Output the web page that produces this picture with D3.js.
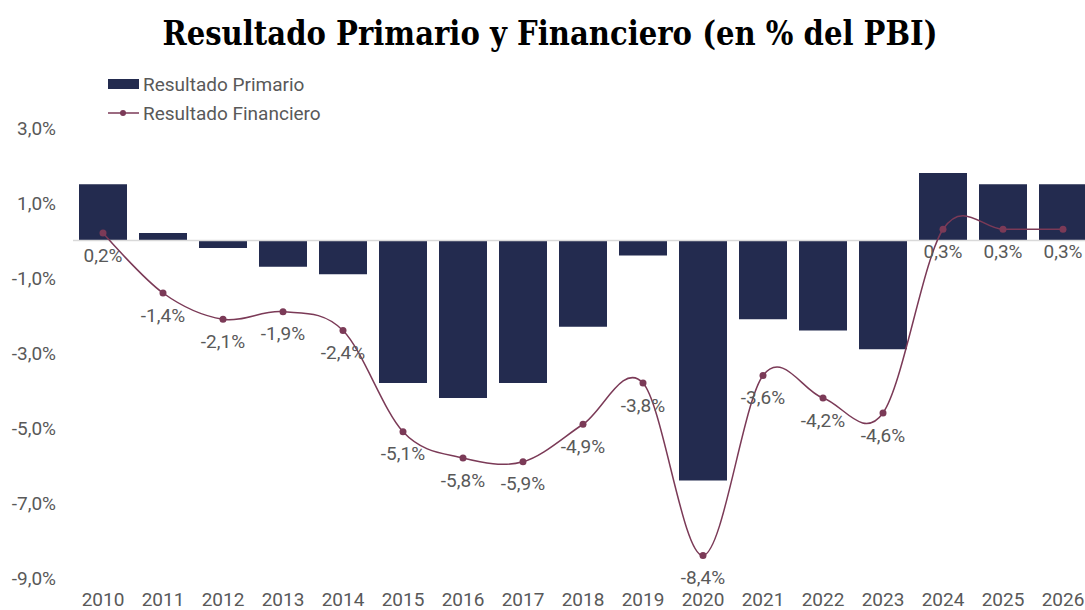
<!DOCTYPE html>
<html>
<head>
<meta charset="utf-8">
<script src="https://cdn.jsdelivr.net/npm/d3@7"></script>
<style>
  body { margin: 0; background: #fff; }
  text { font-family: Roboto, "Noto Sans", sans-serif; }
</style>
</head>
<body>
<div id="chart"></div>
<script>
var years = ["2010","2011","2012","2013","2014","2015","2016","2017","2018","2019","2020","2021","2022","2023","2024","2025","2026"];
// resultado primario (barras)
var primario = [1.5, 0.2, -0.2, -0.7, -0.9, -3.8, -4.2, -3.8, -2.3, -0.4, -6.4, -2.1, -2.4, -2.9, 1.8, 1.5, 1.5];
// resultado financiero (linea)
var financiero = [0.2, -1.4, -2.1, -1.9, -2.4, -5.1, -5.8, -5.9, -4.9, -3.8, -8.4, -3.6, -4.2, -4.6, 0.3, 0.3, 0.3];
var yTicks = [3, 1, -1, -3, -5, -7, -9];

var width = 1085, height = 610;
var barColor = "#232b4f", lineColor = "#7b3a57", textColor = "#595959";
var fontSize = "19px";

var svg = d3.select("#chart").append("svg")
    .attr("width", width)
    .attr("height", height);

var x = d3.scaleBand()
    .domain(years)
    .range([73, 1093])
    .paddingInner(0.2)
    .paddingOuter(0.1);

var y = d3.scaleLinear()
    .domain([-9, 3])
    .range([578, 128]);

// formato con coma decimal y guion simple
var fmt = function(v) { return v.toFixed(1).replace(".", ",") + "%"; };

// titulo
svg.append("text")
    .attr("x", 550)
    .attr("y", 45)
    .attr("text-anchor", "middle")
    .style("font-family", "'DejaVu Serif', serif")
    .style("font-weight", "bold")
    .style("font-size", "33px")
    .attr("textLength", 775)
    .attr("lengthAdjust", "spacingAndGlyphs")
    .attr("fill", "#000")
    .text("Resultado Primario y Financiero (en % del PBI)");

// eje y (solo etiquetas)
svg.selectAll(".ytick")
    .data(yTicks)
    .enter().append("text")
    .attr("class", "ytick")
    .attr("x", 56)
    .attr("y", function(d) { return y(d); })
    .attr("dy", "0.35em")
    .attr("text-anchor", "end")
    .style("font-size", fontSize)
    .attr("fill", textColor)
    .text(fmt);

// eje x
var xAxis = svg.append("g")
    .attr("transform", "translate(0," + 578 + ")")
    .call(d3.axisBottom(x).tickSize(0).tickPadding(15));
xAxis.select(".domain").remove();
xAxis.selectAll("text")
    .style("font-size", fontSize)
    .style("font-family", "Roboto, sans-serif")
    .attr("fill", textColor);

// barras
svg.selectAll(".bar")
    .data(primario)
    .enter().append("rect")
    .attr("class", "bar")
    .attr("x", function(d, i) { return x(years[i]); })
    .attr("width", x.bandwidth())
    .attr("y", function(d) { return y(Math.max(0, d)); })
    .attr("height", function(d) { return Math.abs(y(d) - y(0)); })
    .attr("fill", barColor);

// linea cero
svg.append("line")
    .attr("x1", 73).attr("x2", width)
    .attr("y1", y(0)).attr("y2", y(0))
    .attr("stroke", "#d9d9d9")
    .attr("stroke-width", 1.5);

// linea financiero
var line = d3.line()
    .x(function(d, i) { return x(years[i]) + x.bandwidth() / 2; })
    .y(function(d) { return y(d); })
    .curve(d3.curveCardinal.tension(0));

svg.append("path")
    .datum(financiero)
    .attr("d", line)
    .attr("fill", "none")
    .attr("stroke", lineColor)
    .attr("stroke-width", 1.5);

svg.selectAll(".dot")
    .data(financiero)
    .enter().append("circle")
    .attr("class", "dot")
    .attr("cx", function(d, i) { return x(years[i]) + x.bandwidth() / 2; })
    .attr("cy", function(d) { return y(d); })
    .attr("r", 3.5)
    .attr("fill", lineColor);

svg.selectAll(".lbl")
    .data(financiero)
    .enter().append("text")
    .attr("class", "lbl")
    .attr("x", function(d, i) { return x(years[i]) + x.bandwidth() / 2; })
    .attr("y", function(d) { return y(d) + 22; })
    .attr("dy", "0.35em")
    .attr("text-anchor", "middle")
    .style("font-size", fontSize)
    .attr("fill", textColor)
    .text(fmt);

// leyenda
var legend = svg.append("g");
legend.append("rect")
    .attr("x", 108).attr("y", 79)
    .attr("width", 31).attr("height", 10)
    .attr("fill", barColor);
legend.append("text")
    .attr("x", 143).attr("y", 84).attr("dy", "0.35em")
    .style("font-size", fontSize).attr("fill", textColor)
    .text("Resultado Primario");
legend.append("line")
    .attr("x1", 108).attr("x2", 139)
    .attr("y1", 113).attr("y2", 113)
    .attr("stroke", lineColor).attr("stroke-width", 1.5);
legend.append("circle")
    .attr("cx", 123).attr("cy", 113).attr("r", 3)
    .attr("fill", lineColor);
legend.append("text")
    .attr("x", 143).attr("y", 113).attr("dy", "0.35em")
    .style("font-size", fontSize).attr("fill", textColor)
    .text("Resultado Financiero");
</script>
</body>
</html>
